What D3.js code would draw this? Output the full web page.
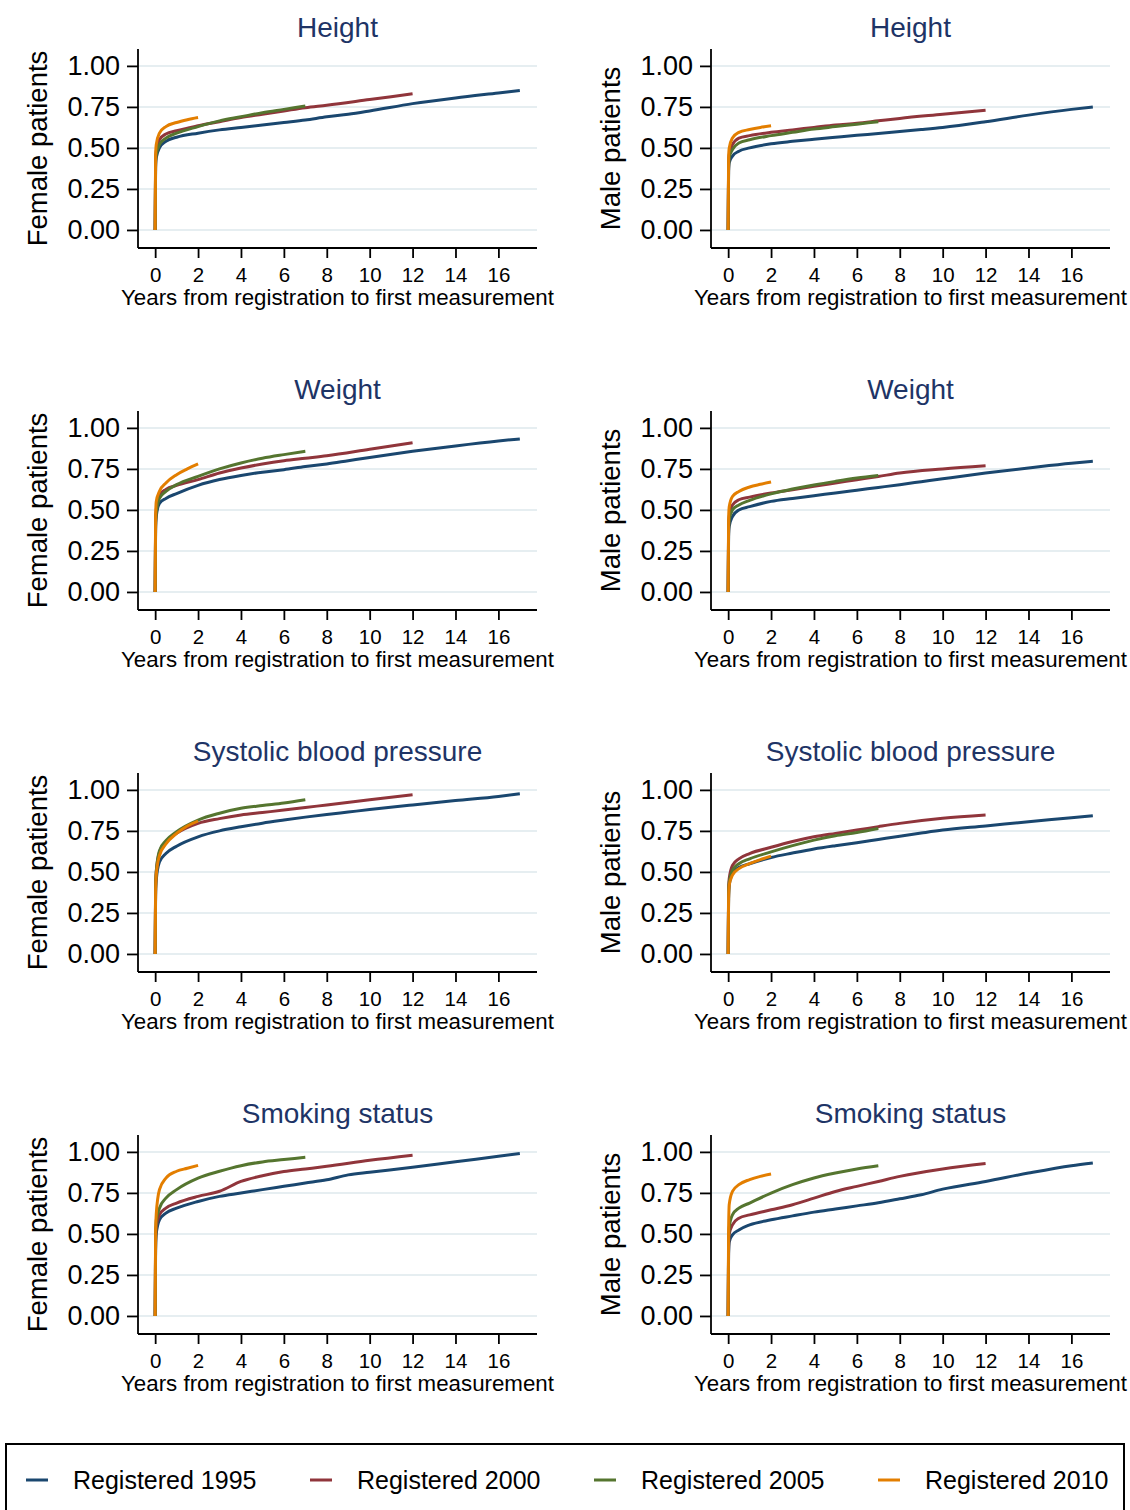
<!DOCTYPE html>
<html>
<head>
<meta charset="utf-8">
<script src="https://cdn.jsdelivr.net/npm/d3@7/dist/d3.min.js"></script>
<style>
    body { margin: 0; background: #fff; }
    text { font-family: "Liberation Sans", Arial, sans-serif; }
</style>
</head>
<body>
<div id="chart"></div>
<script>

// Series labels and colours (Stata s2color)
var cohorts = ["Registered 1995", "Registered 2000", "Registered 2005", "Registered 2010"];
var colors = ["#1a476f", "#90353b", "#55752f", "#e37e00"];

var xs1995 = [0, 0.02, 0.05, 0.2, 0.5, 1, 2, 3, 4, 5, 6, 7, 8, 9, 10, 12, 14, 16, 17];
var xs2000 = [0, 0.02, 0.05, 0.2, 0.5, 1, 2, 3, 4, 5, 6, 7, 8, 10, 12];
var xs2005 = [0, 0.02, 0.05, 0.2, 0.5, 1, 2, 3, 4, 5, 6, 7];
var xs2010 = [0, 0.02, 0.05, 0.2, 0.5, 1, 1.5, 2];

var xTicks = [0, 2, 4, 6, 8, 10, 12, 14, 16];
var yTicks = [0, 0.25, 0.5, 0.75, 1];

// Proportion with a first measurement, one row per cohort (1995, 2000, 2005, 2010)
var heightFemale = [
    [0, .38, .44, .50, .54, .565, .59, .61, .625, .64, .655, .67, .69, .705, .725, .77, .805, .835, .85],
    [0, .42, .48, .55, .585, .605, .635, .66, .685, .705, .725, .745, .76, .795, .83],
    [0, .40, .46, .52, .56, .59, .63, .665, .69, .715, .735, .755],
    [0, .45, .52, .59, .63, .655, .672, .685]
];
var heightMale = [
    [0, .36, .41, .45, .48, .50, .525, .54, .553, .565, .577, .588, .60, .612, .625, .66, .70, .735, .75],
    [0, .40, .46, .52, .56, .575, .595, .61, .625, .64, .65, .665, .68, .705, .73],
    [0, .38, .44, .49, .53, .55, .575, .595, .615, .63, .645, .66],
    [0, .44, .50, .56, .595, .612, .625, .635]
];
var weightFemale = [
    [0, .38, .46, .54, .57, .60, .65, .685, .71, .73, .745, .765, .78, .80, .82, .857, .89, .92, .933],
    [0, .42, .50, .59, .625, .65, .685, .725, .755, .78, .80, .815, .83, .87, .91],
    [0, .40, .48, .57, .613, .654, .705, .75, .786, .815, .837, .857],
    [0, .45, .55, .613, .664, .715, .75, .78]
];
var weightMale = [
    [0, .34, .40, .46, .50, .52, .552, .57, .587, .603, .62, .637, .654, .672, .69, .725, .756, .785, .796],
    [0, .40, .46, .53, .562, .578, .603, .623, .644, .664, .684, .704, .725, .75, .77],
    [0, .38, .44, .50, .53, .558, .598, .627, .652, .674, .694, .71],
    [0, .44, .52, .582, .613, .64, .656, .67]
];
var sbpFemale = [
    [0, .36, .45, .56, .612, .657, .714, .75, .775, .797, .816, .834, .85, .865, .88, .908, .935, .96, .976],
    [0, .40, .50, .62, .684, .735, .796, .825, .847, .862, .877, .893, .908, .94, .97],
    [0, .40, .50, .63, .69, .745, .816, .858, .888, .905, .92, .94],
    [0, .38, .48, .60, .67, .735, .78, .81]
];
var sbpMale = [
    [0, .34, .42, .49, .527, .55, .588, .615, .64, .66, .678, .698, .718, .737, .755, .78, .806, .83, .843],
    [0, .38, .46, .54, .58, .612, .65, .685, .714, .735, .755, .776, .796, .827, .847],
    [0, .36, .44, .51, .55, .58, .622, .66, .694, .72, .74, .765],
    [0, .34, .42, .48, .52, .55, .575, .596]
];
var smokingFemale = [
    [0, .40, .50, .586, .627, .657, .698, .729, .749, .77, .79, .81, .83, .86, .876, .906, .94, .973, .99],
    [0, .45, .54, .616, .657, .688, .729, .76, .82, .855, .88, .896, .912, .949, .98],
    [0, .45, .58, .657, .718, .77, .84, .882, .916, .939, .953, .967],
    [0, .50, .62, .77, .84, .882, .90, .918]
];
var smokingMale = [
    [0, .38, .45, .494, .524, .555, .586, .61, .633, .652, .671, .69, .714, .739, .773, .82, .871, .916, .933],
    [0, .42, .50, .555, .596, .616, .647, .678, .718, .759, .79, .82, .851, .896, .929],
    [0, .45, .54, .616, .657, .688, .749, .80, .841, .871, .896, .916],
    [0, .52, .68, .759, .80, .831, .851, .865]
];

var titles = ["Height", "Weight", "Systolic blood pressure", "Smoking status"];
var femaleData = [heightFemale, weightFemale, sbpFemale, smokingFemale];
var maleData = [heightMale, weightMale, sbpMale, smokingMale];

var svg = d3.select("#chart").append("svg")
    .attr("width", 1130)
    .attr("height", 1510);

/*
 *  CurvePanel - one small multiple
 *  @param _svg     -- svg selection to draw into
 *  @param _left    -- x of the y axis line
 *  @param _top     -- y of the top of the plot region
 *  @param _title   -- panel title
 *  @param _ylab    -- y axis title
 *  @param _data    -- four arrays of proportions
 */
CurvePanel = function(_svg, _left, _top, _title, _ylab, _data) {
    this.svg = _svg;
    this.left = _left;
    this.top = _top;
    this.title = _title;
    this.ylab = _ylab;
    this.data = _data;

    this.initVis();
}

CurvePanel.prototype.initVis = function() {
    var vis = this;

    vis.width = 399;
    vis.height = 199;

    vis.g = vis.svg.append("g")
        .attr("transform", "translate(" + vis.left + "," + vis.top + ")");

    vis.x = d3.scaleLinear().domain([-0.8, 17.8]).range([0, vis.width]);
    vis.y = d3.scaleLinear().domain([-0.11, 1.103]).range([vis.height, 0]);

    // gridlines
    vis.g.selectAll(".grid")
        .data(yTicks)
        .enter().append("line")
        .attr("class", "grid")
        .attr("x1", 0)
        .attr("x2", vis.width)
        .attr("y1", function(d) { return vis.y(d); })
        .attr("y2", function(d) { return vis.y(d); })
        .attr("stroke", "#e6eef1")
        .attr("stroke-width", 2);

    vis.updateVis();
}

CurvePanel.prototype.updateVis = function() {
    var vis = this;
    var xGrid = [xs1995, xs2000, xs2005, xs2010];

    var line = d3.line()
        .x(function(d) { return vis.x(d[0]); })
        .y(function(d) { return vis.y(d[1]); })
        .curve(d3.curveMonotoneX);

    vis.g.selectAll(".curve")
        .data(vis.data)
        .enter().append("path")
        .attr("class", "curve")
        .attr("d", function(d, i) {
            return line(d.map(function(v, j) { return [xGrid[i][j], v]; }));
        })
        .attr("fill", "none")
        .attr("stroke", function(d, i) { return colors[i]; })
        .attr("stroke-width", 3);

    // axes
    var yAxis = d3.axisLeft(vis.y)
        .tickValues(yTicks)
        .tickFormat(d3.format(".2f"))
        .tickSize(11)
        .tickPadding(7);
    var xAxis = d3.axisBottom(vis.x)
        .tickValues(xTicks)
        .tickSize(10)
        .tickPadding(9);

    var ya = vis.g.append("g").call(yAxis);
    ya.select(".domain").attr("d", "M0,0V" + vis.height);
    ya.selectAll("text").attr("font-size", 27).attr("fill", "#000")
        .style("font-family", "'Liberation Sans', Arial, sans-serif");

    var xa = vis.g.append("g")
        .attr("transform", "translate(0," + vis.height + ")")
        .call(xAxis);
    xa.select(".domain").attr("d", "M0,0H" + vis.width);
    xa.selectAll("text").attr("font-size", 20.5).attr("fill", "#000")
        .style("font-family", "'Liberation Sans', Arial, sans-serif");

    vis.g.selectAll(".domain, .tick line")
        .attr("stroke", "#000")
        .attr("stroke-width", 1.8);

    // titles
    vis.g.append("text")
        .attr("x", vis.width / 2)
        .attr("y", -12)
        .attr("text-anchor", "middle")
        .attr("font-size", 28)
        .attr("fill", "#1e3466")
        .text(vis.title);

    vis.g.append("text")
        .attr("x", vis.width / 2)
        .attr("y", vis.height + 57)
        .attr("text-anchor", "middle")
        .attr("font-size", 22.3)
        .attr("fill", "#000")
        .text("Years from registration to first measurement");

    vis.g.append("text")
        .attr("transform", "translate(-91," + (vis.height / 2) + ") rotate(-90)")
        .attr("text-anchor", "middle")
        .attr("font-size", 27.5)
        .attr("fill", "#000")
        .text(vis.ylab);
}

titles.forEach(function(t, r) {
    new CurvePanel(svg, 138, 49 + r * 362, t, "Female patients", femaleData[r]);
    new CurvePanel(svg, 711, 49 + r * 362, t, "Male patients", maleData[r]);
});

// Legend
var legend = svg.append("g");
legend.append("rect")
    .attr("x", 6)
    .attr("y", 1444)
    .attr("width", 1118)
    .attr("height", 80)
    .attr("fill", "none")
    .attr("stroke", "#000")
    .attr("stroke-width", 2);

var item = legend.selectAll(".item")
    .data(cohorts)
    .enter().append("g")
    .attr("class", "item")
    .attr("transform", function(d, i) { return "translate(" + (26 + i * 284) + ",1480)"; });

item.append("line")
    .attr("x1", 0).attr("x2", 22)
    .attr("stroke", function(d, i) { return colors[i]; })
    .attr("stroke-width", 3);

item.append("text")
    .attr("x", 47)
    .attr("y", 9)
    .attr("font-size", 25)
    .attr("fill", "#000")
    .text(function(d) { return d; });

</script>
</body>
</html>
